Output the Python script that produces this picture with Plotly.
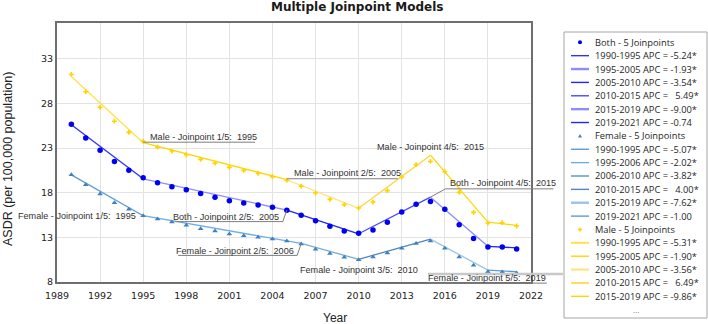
import plotly.graph_objects as go

# ---------------- data ----------------
years = list(range(1990, 2022))
both_obs = [25.65, 24.12, 22.74, 21.48, 20.50, 19.68, 19.12, 18.67, 18.34, 17.90,
            17.48, 17.10, 16.85, 16.62, 16.36, 16.02, 15.46, 14.85, 14.23, 13.72,
            13.45, 13.82, 14.68, 15.83, 16.70, 17.00, 16.14, 14.42, 12.86, 11.92,
            11.92, 11.70]
female_obs = [20.02, 18.90, 17.85, 16.88, 16.14, 15.43, 15.05, 14.71, 14.35, 13.97,
              13.70, 13.37, 13.19, 13.00, 12.81, 12.59, 12.25, 11.66, 11.18, 10.78,
              10.50, 10.80, 11.25, 11.77, 12.30, 12.59, 11.77, 10.80, 9.87, 9.16,
              9.13, 9.00]
male_obs = [31.24, 29.30, 27.55, 26.00, 24.75, 23.75, 23.10, 22.66, 22.25, 21.73,
            21.30, 20.84, 20.50, 20.16, 19.80, 19.38, 18.74, 17.96, 17.25, 16.66,
            16.28, 16.95, 18.23, 19.75, 21.14, 21.50, 20.35, 18.04, 15.80, 14.60,
            14.64, 14.27]

both_jp_years = [1990, 1995, 2005, 2010, 2015, 2019, 2021]
both_fit = [25.60, 19.55, 16.05, 13.40, 17.50, 12.00, 11.82]
female_jp_years = [1990, 1995, 2006, 2010, 2015, 2019, 2021]
female_fit = [20.00, 15.42, 12.32, 10.54, 12.80, 9.33, 9.15]
male_jp_years = [1990, 1995, 2005, 2010, 2015, 2019, 2021]
male_fit = [31.00, 23.60, 19.45, 16.25, 22.20, 14.70, 14.35]

both_apc = [-5.24, -1.93, -3.54, 5.49, -9.00, -0.74]
both_sig = [True, True, True, True, True, False]
female_apc = [-5.07, -2.02, -3.82, 4.00, -7.62, -1.00]
female_sig = [True, True, True, True, True, False]
male_apc = [-5.31, -1.90, -3.56, 6.49, -9.86]          # last male row is cut off in the legend
male_sig = [True, True, True, True, True]

series_names = ["Both", "Female", "Male"]
x_range = [1989, 2022]
y_range = [8, 37]
x_ticks = list(range(1989, 2023, 3))
y_ticks = [8, 13, 18, 23, 28, 33]

title_text = "Multiple Joinpoint Models"
x_title = "Year"
y_title = "ASDR (per 100,000 population)"

# ---------------- styles ----------------
W, H = 708, 324
L, R, T, B = 57, 531, 23, 282            # plot area in pixels

def px2x(px):
    return (px - L) / (R - L)

def py2y(py):
    return (B - py) / (B - T)

def data2paper_x(v):
    return (v - x_range[0]) / (x_range[1] - x_range[0])

def data2paper_y(v):
    return (v - y_range[0]) / (y_range[1] - y_range[0])

styles = {
    "Both": dict(marker="circle", msize=5.5, mcolor="#0000f0",
                 seg_colors=["#3030ff", "#8c8cff", "#2424ff", "#4a4aff", "#8c8cff", "#2424ff"],
                 seg_lw=[1.4, 2.4, 1.4, 1.4, 2.4, 1.4]),
    "Female": dict(marker="triangle-up", msize=5, mcolor="#3f80c0",
                   seg_colors=["#5b9bd5", "#6eaee4", "#78acd9", "#4f87bf", "#9dc3e6", "#5b9bd5"],
                   seg_lw=[1.4, 1.4, 1.8, 1.4, 2.4, 1.4]),
    "Male": dict(marker="cross", msize=4, mcolor="#ffd200",
                 seg_colors=["#ffe14d", "#ffd700", "#ffe27a", "#ffd43b", "#ffd700", "#ffd700"],
                 seg_lw=[2.0, 1.4, 2.0, 1.6, 1.4, 1.4]),
}
obs = {"Both": both_obs, "Female": female_obs, "Male": male_obs}
jps = {"Both": both_jp_years, "Female": female_jp_years, "Male": male_jp_years}
fits = {"Both": both_fit, "Female": female_fit, "Male": male_fit}
apcs = {"Both": (both_apc, both_sig), "Female": (female_apc, female_sig), "Male": (male_apc, male_sig)}

fig = go.Figure()

# fitted segments
for name in series_names:
    st = styles[name]
    jy, fv = jps[name], fits[name]
    for k in range(len(jy) - 1):
        fig.add_trace(go.Scatter(
            x=[jy[k], jy[k + 1]], y=[fv[k], fv[k + 1]], mode="lines",
            line=dict(color=st["seg_colors"][k], width=1.3),
            showlegend=False, hoverinfo="skip"))

# observed points
for name in series_names:
    st = styles[name]
    fig.add_trace(go.Scatter(
        x=years, y=obs[name], mode="markers",
        marker=dict(symbol=st["marker"], size=st["msize"], color=st["mcolor"],
                    line=dict(width=0)),
        showlegend=False, name=name))

# ---------------- joinpoint labels ----------------
NB = "\u00a0"
lab_font = dict(family="Liberation Sans, Arial", size=9.1, color="#333333")
lead_col = "#7f7f7f"

# (series, joinpoint index, xanchor, xshift, yshift, pixel segments (dx0,dy0,dx1,dy1), y up)
label_specs = [
    ("Male", 1, "left", 5, 6, [(0, 0.5, 112, 0.5)]),
    ("Female", 1, "right", -5, 0, []),
    ("Both", 2, "right", -6, -6.5, [(0, 0, -4, -11.5), (-4, -11.5, -112, -11.5)]),
    ("Male", 2, "left", 5, 6.5, [(0, 1, 111, 1)]),
    ("Female", 2, "right", -5, -7.5, [(0, 0, -4, -12), (-4, -12, -123, -12)]),
    ("Female", 3, "center", 0, -10.7, []),
    ("Male", 4, "center", 0, 8.5, []),
    ("Both", 4, "left", 18, 14, [(0, 0, 15, 8.3), (15, 8.3, 123, 8.3)]),
    ("Female", 5, "center", -0.5, -8, [(-60, -4, 75, -4), (-60, -13, 59, -13)]),
]
for name, k, xa, xs, ys, segs in label_specs:
    jy = jps[name][k]
    val = fits[name][k]
    text = f"{name} - Joinpoint {k}/5:{NB}{NB}{jy}"
    for (dx0, dy0, dx1, dy1) in segs:
        col = lead_col
        wid = 1
        if name == "Female" and k == 5 and dy0 == -4:
            col, wid = "#c8c8c8", 2.5
        fig.add_shape(type="line", xref="paper", yref="paper",
                      xsizemode="pixel", ysizemode="pixel",
                      xanchor=data2paper_x(jy), yanchor=data2paper_y(val),
                      x0=dx0, y0=dy0, x1=dx1, y1=dy1,
                      line=dict(color=col, width=wid), layer="above")
    fig.add_annotation(x=jy, y=val, xref="x", yref="y", text=text, showarrow=False,
                       xanchor=xa, yanchor="middle", xshift=xs, yshift=ys, font=lab_font)

# ---------------- manual legend ----------------
leg_left, leg_top, leg_right, leg_bottom = 564, 32, 707, 318
fig.add_shape(type="rect", xref="paper", yref="paper",
              x0=px2x(leg_left), x1=px2x(leg_right), y0=py2y(leg_bottom), y1=py2y(leg_top),
              line=dict(color="#a6a6a6", width=1), fillcolor="white", layer="below")

leg_font = dict(family="Open Sans, Noto Sans", size=9.3, color="#262626")
row0, row_h = 42.3, 13.37
sym_x0, sym_x1, txt_x = 571, 589, 593
row = 0
for name in series_names:
    st = styles[name]
    yc = row0 + row * row_h
    mx = (sym_x0 + sym_x1) / 2
    if st["marker"] == "circle":
        fig.add_shape(type="circle", xref="paper", yref="paper",
                      x0=px2x(mx - 2), x1=px2x(mx + 2), y0=py2y(yc + 2), y1=py2y(yc - 2),
                      fillcolor=st["mcolor"], line=dict(width=0))
    elif st["marker"] == "triangle-up":
        path = (f"M {px2x(mx - 2)} {py2y(yc + 1.5)} L {px2x(mx + 2)} {py2y(yc + 1.5)} "
                f"L {px2x(mx)} {py2y(yc - 2)} Z")
        fig.add_shape(type="path", xref="paper", yref="paper", path=path,
                      fillcolor=st["mcolor"], line=dict(width=0))
    else:
        fig.add_shape(type="line", xref="paper", yref="paper",
                      x0=px2x(mx - 2), x1=px2x(mx + 2), y0=py2y(yc), y1=py2y(yc),
                      line=dict(color=st["mcolor"], width=1.5))
        fig.add_shape(type="line", xref="paper", yref="paper",
                      x0=px2x(mx), x1=px2x(mx), y0=py2y(yc - 2), y1=py2y(yc + 2),
                      line=dict(color=st["mcolor"], width=1.5))
    fig.add_annotation(x=px2x(txt_x), y=py2y(yc), xref="paper", yref="paper",
                       text=f"{name} - {len(jps[name]) - 2} Joinpoints", showarrow=False,
                       xanchor="left", yanchor="middle", font=leg_font)
    row += 1
    vals, sigs = apcs[name]
    jy = jps[name]
    for k, (v, s) in enumerate(zip(vals, sigs)):
        yc = row0 + row * row_h
        fig.add_shape(type="line", xref="paper", yref="paper",
                      x0=px2x(sym_x0), x1=px2x(sym_x1), y0=py2y(yc), y1=py2y(yc),
                      line=dict(color=st["seg_colors"][k], width=st["seg_lw"][k]))
        vs = f"{v:5.2f}".replace(" ", NB + NB)
        txt = f"{jy[k]}-{jy[k + 1]} APC{NB}={NB}{vs}{'*' if s else ''}"
        fig.add_annotation(x=px2x(txt_x), y=py2y(yc), xref="paper", yref="paper",
                           text=txt, showarrow=False, xanchor="left", yanchor="middle",
                           font=leg_font)
        row += 1
fig.add_annotation(x=px2x(636), y=py2y(309), xref="paper", yref="paper", text="...",
                   showarrow=False, xanchor="center", yanchor="middle",
                   font=dict(family="Open Sans", size=8, color="#777777"))

# ---------------- titles ----------------
fig.add_annotation(x=px2x(357), y=py2y(7), xref="paper", yref="paper", text=f"<b>{title_text}</b>",
                   showarrow=False, xanchor="center", yanchor="middle",
                   font=dict(family="DejaVu Sans", size=12, color="#1a1a1a"))
fig.add_annotation(x=px2x(335), y=py2y(318), xref="paper", yref="paper", text=x_title,
                   showarrow=False, xanchor="center", yanchor="middle",
                   font=dict(family="Liberation Sans, Arial", size=12, color="#222222"))
fig.add_annotation(x=px2x(8), y=py2y(159), xref="paper", yref="paper", text=y_title,
                   showarrow=False, xanchor="center", yanchor="middle", textangle=-90,
                   font=dict(family="Liberation Sans, Arial", size=12.5, color="#222222"))

axis_common = dict(showgrid=True, gridcolor="#e3e3e3", gridwidth=1, zeroline=False,
                   showline=True, linecolor="#6e6e6e", linewidth=2, mirror=True,
                   automargin=False,
                   tickfont=dict(family="DejaVu Sans", size=9.5, color="#222222"))
fig.update_layout(
    width=W, height=H, autosize=False,
    margin=dict(l=L, r=W - R, t=T, b=H - B, pad=0),
    plot_bgcolor="white", paper_bgcolor="white", showlegend=False,
    xaxis=dict(range=x_range, tickvals=x_ticks, ticks="outside", ticklen=4,
               tickcolor="rgba(0,0,0,0)", **axis_common),
    yaxis=dict(range=y_range, tickvals=y_ticks, ticks="", **axis_common),
)

fig.write_html("out.html", config={"displayModeBar": False},
               post_script="document.body.style.margin='0px';")
